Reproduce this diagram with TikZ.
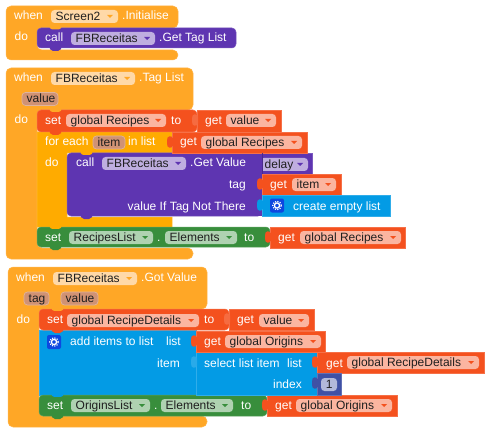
\documentclass[tikz,border=0pt]{standalone}
\usepackage{fontspec}
\setmainfont{Liberation Sans}
\definecolor{hat}{HTML}{FFA726}
\definecolor{loopc}{HTML}{FFAB00}
\definecolor{redc}{HTML}{F4511E}
\definecolor{purc}{HTML}{5E35B1}
\definecolor{grnc}{HTML}{388E3C}
\definecolor{bluc}{HTML}{039BE5}
\definecolor{numc}{HTML}{3F51A5}
\definecolor{fhat}{HTML}{FFD9A8}
\definecolor{fred}{HTML}{FBB5A0}
\definecolor{fpur}{HTML}{BFAEE0}
\definecolor{fgrn}{HTML}{AFD2B1}
\definecolor{fnum}{HTML}{B2B9DA}
\definecolor{fpar}{HTML}{D09274}
\definecolor{icon}{HTML}{0D47E0}
\newcounter{nid}
\tikzset{
  x=1pt,y=-1pt,
  blockshape/.style={line width=.5pt,draw=#1!82!white,fill=#1},
  wt/.style={anchor=base west,inner sep=0pt,text=white,font=\fontsize{12}{14}\selectfont},
  wr/.style={anchor=base east,inner sep=0pt,text=white,font=\fontsize{12}{14}\selectfont},
  dt/.style={anchor=base west,inner sep=0pt,text=black!88,font=\fontsize{12}{14}\selectfont},
}
\newcommand{\flatblk}[5]{\draw[blockshape=#5] (#1,#2) rectangle (#3,#4);}
% bottom tab hanging below a block
\newcommand{\tabd}[3]{\fill[#3,rounded corners=2pt] (#1,#2-1) -- (#1+2,#2+3) -- (#1+11,#2+3) -- (#1+13,#2-1) -- cycle;}
% shallow notch at the top of a block
\newcommand{\tabn}[3]{\fill[#3,rounded corners=1pt] (#1,#2-1) -- (#1+2,#2+1.8) -- (#1+11,#2+1.8) -- (#1+13,#2-1) -- cycle;}
% left puzzle tab
\newcommand{\tabl}[3]{\fill[#3,rounded corners=1.5pt] (#1+1,#2+4) -- (#1-4,#2+3) -- (#1-5,#2+7) -- (#1-5,#2+11) -- (#1-4,#2+15) -- (#1+1,#2+14) -- cycle;}
\newcommand{\wlab}[3]{\stepcounter{nid}\node[wt] (t\arabic{nid}) at (#1,#2) {#3};}
\newcommand{\rlab}[3]{\stepcounter{nid}\node[wr] (t\arabic{nid}) at (#1,#2) {#3};}
% field: x1 x2 ytop ybot fill arrowcolor text
\newcommand{\fld}[7]{\fill[#5,rounded corners=3.5pt] (#1,#3) rectangle (#2,#4);
  \stepcounter{nid}\node[dt] (t\arabic{nid}) at (#1+4.5,#4-2.5) {#7};
  \fill[#6] (#2-11,{(#3+#4)/2-1.5}) -- (#2-5,{(#3+#4)/2-1.5}) -- (#2-8,{(#3+#4)/2+1.5}) -- cycle;}
\newcommand{\paramf}[4]{\draw[fill=fpar,draw=fpar!70!white,line width=.7pt,rounded corners=3.5pt] (#1,#3) rectangle (#2,#3+13);
  \stepcounter{nid}\node[dt] (t\arabic{nid}) at (#1+4.5,#3+10.5) {#4};}
\newcommand{\gearic}[2]{\fill[icon,rounded corners=2pt] (#1,#2) rectangle (#1+14,#2+14);
  \draw[white,line width=1.3pt] (#1+7,#2+7) circle (2.6pt);
  \draw[white,line width=1.1pt,dash pattern=on 1.2pt off 1.3pt] (#1+7,#2+7) circle (4.3pt);}
\begin{document}
\begin{tikzpicture}
\useasboundingbox (0,0) rectangle (490,433);
\fill[white] (0,0) rectangle (490,433);
% ---------- Block 1
\draw[blockshape=hat,rounded corners=5pt] (6,6) -- (178,6) -- (178,28) -- (37,28) -- (37,50) -- (178,50) -- (178,60) -- (6,60) -- cycle;
\draw[blockshape=purc,rounded corners=4pt] (37,28) -- (236,28) -- (236,48) -- (37,48) -- cycle;
\tabd{49}{48}{purc}
\tabn{49}{27.5}{hat}
\wlab{14}{20}{when}
\fld{51}{118}{10}{23}{fhat}{hat}{Screen2}
\wlab{122}{20}{.Initialise}
\wlab{14.5}{41}{do}
\wlab{45}{42}{call}
\fld{71}{155}{32}{45}{fpur}{purc}{FBReceitas}
\wlab{159}{42}{.Get Tag List}
% ---------- Block 2
\draw[blockshape=hat,rounded corners=5pt] (6,68) -- (193,68) -- (193,110) -- (37,110) -- (37,248) -- (193,248) -- (193,259) -- (6,259) -- cycle;
\wlab{14}{82}{when}
\fld{51}{135}{72}{85}{fhat}{hat}{FBReceitas}
\wlab{139}{82}{.Tag List}
\paramf{22}{58}{92.5}{value}
\wlab{14.5}{124}{do}
% for each
\draw[blockshape=loopc,rounded corners=.01pt] (37,132) -- (172,132) -- (172,153) -- (67,153) -- (67,217) -- (172,217) -- (172,227) -- (37,227) -- cycle;
% purple call
\flatblk{262}{153}{312}{216}{purc}
\draw[blockshape=purc,rounded corners=4pt] (67,153) -- (262,153) -- (262,216) -- (67,216) -- cycle;
\fill[purc] (255,153.3) rectangle (263,215.7);
\tabd{80}{216}{purc}
\tabn{80}{153}{loopc}
% set global Recipes
\draw[blockshape=redc,rounded corners=4pt] (37,110) -- (197,110) -- (197,132) -- (37,132) -- cycle;
\tabd{49}{132}{redc}
\tabn{49}{110}{hat}
\flatblk{197}{110}{281}{132}{redc}
\tabl{197}{111}{redc!85!white}
\wlab{45}{125}{set}
\fld{66}{166}{114}{127}{fred}{redc}{global Recipes}
\wlab{171}{125}{to}
\wlab{205}{125}{get}
\fld{226}{276}{114}{127}{fred}{redc}{value}
% for each row
\wlab{45}{146}{for each}
\paramf{93}{125}{136}{item}
\wlab{128}{146}{in list}
\wlab{45}{167}{do}
\flatblk{172}{132}{307}{153}{redc}
\tabl{172}{133}{redc}
\wlab{180}{146}{get}
\fld{201}{302}{136}{149}{fred}{redc}{global Recipes}
% call get value
\wlab{76}{167}{call}
\fld{102}{186}{157}{170}{fpur}{purc}{FBReceitas}
\wlab{190}{167}{.Get Value}
\fld{260}{308}{158}{171}{fpur}{purc}{delay}
\fill[purc] (255,157) rectangle (262,172);
\draw[purc!80!black,line width=.5pt] (262,153) -- (262,216);
\rlab{246}{188}{tag}
\rlab{246}{210}{value If Tag Not There}
\flatblk{262}{174}{341}{195}{redc}
\tabl{262}{175}{redc}
\wlab{270}{188}{get}
\fld{292}{336}{178}{191}{fred}{redc}{item}
\flatblk{262}{195}{390}{216}{bluc}
\tabl{262}{196}{bluc}
\gearic{270}{198.5}
\wlab{293}{210}{create empty list}
% green set
\draw[blockshape=grnc,rounded corners=4pt] (37,227) -- (270,227) -- (270,247) -- (37,247) -- cycle;
\tabd{49}{247}{grnc}
\tabn{49}{227}{loopc}
\flatblk{270}{227}{405}{248}{redc}
\tabl{270}{228}{redc}
\wlab{45}{241}{set}
\fld{69}{153}{231}{244}{fgrn}{grnc}{RecipesList}
\wlab{157}{241}{.}
\fld{165}{237}{231}{244}{fgrn}{grnc}{Elements}
\wlab{244}{241}{to}
\wlab{278}{241}{get}
\fld{300}{401}{231}{244}{fred}{redc}{global Recipes}
% ---------- Block 3
\draw[blockshape=hat,rounded corners=5pt] (8,267) -- (207,267) -- (207,309) -- (39,309) -- (39,416) -- (207,416) -- (207,427) -- (8,427) -- cycle;
\wlab{16}{281}{when}
\fld{53}{137}{272}{285}{fhat}{hat}{FBReceitas}
\wlab{141}{281}{.Got Value}
\paramf{24}{49}{292}{tag}
\paramf{61}{98}{292}{value}
\wlab{16.5}{323}{do}
% blue add items
\flatblk{39}{330}{196}{395}{bluc}
% green
\draw[blockshape=grnc,rounded corners=4pt] (39,395) -- (267,395) -- (267,416) -- (39,416) -- cycle;
\tabd{51}{416}{grnc}
\tabn{51}{395}{bluc}
\flatblk{267}{395}{397}{416}{redc}
\tabl{267}{396}{redc}
\wlab{47}{409}{set}
\fld{71}{150}{399}{412}{fgrn}{grnc}{OriginsList}
\wlab{154}{409}{.}
\fld{161}{233}{399}{412}{fgrn}{grnc}{Elements}
\wlab{241}{409}{to}
\wlab{275}{409}{get}
\fld{296}{392}{399}{412}{fred}{redc}{global Origins}
% select list item
\flatblk{196}{352}{317}{395}{bluc}
\tabl{196}{353}{bluc!85!white}
\wlab{204}{367}{select list item}
\rlab{302}{367}{list}
\rlab{302}{388}{index}
\flatblk{317}{352}{484}{373}{redc}
\tabl{317}{353}{redc}
\wlab{326}{367}{get}
\fld{347}{479}{356}{369}{fred}{redc}{global RecipeDetails}
\flatblk{317}{373}{341}{395}{numc}
\tabl{317}{374}{numc}
\fill[fnum,rounded corners=3.5pt] (321,378) rectangle (337,391);
\stepcounter{nid}\node[dt] (t\arabic{nid}) at (325.7,388.5) {1};
% blue rows
\flatblk{196}{331}{325}{352}{redc}
\tabl{196}{332}{redc}
\gearic{47}{335}
\wlab{70}{345}{add items to list}
\rlab{181}{345}{list}
\rlab{180}{367}{item}
\wlab{204}{345}{get}
\fld{225}{321}{335}{348}{fred}{redc}{global Origins}
% red set
\draw[blockshape=redc,rounded corners=4pt] (39,309) -- (229,309) -- (229,330) -- (39,330) -- cycle;
\tabd{51}{330}{redc}
\tabn{51}{309}{hat}
\flatblk{229}{309}{314}{330}{redc}
\tabl{229}{310}{redc!85!white}
\wlab{47}{323}{set}
\fld{67}{199}{314}{327}{fred}{redc}{global RecipeDetails}
\wlab{204}{323}{to}
\wlab{237}{323}{get}
\fld{259}{309}{314}{327}{fred}{redc}{value}
\end{tikzpicture}
\end{document}
